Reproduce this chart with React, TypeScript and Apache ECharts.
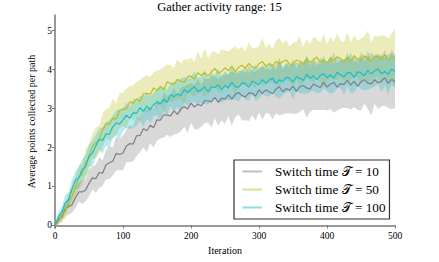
import React, { useEffect, useRef } from 'react';
import * as echarts from 'echarts';

const TITLE = 'Gather activity range: 15';
const ITER_STEP = 5;
const Y_TICKS = [0, 1, 2, 3, 4, 5];
const SERIES_NAMES = ['Switch time 𝒯 = 10', 'Switch time 𝒯 = 50', 'Switch time 𝒯 = 100'];

const grayMean = [
  0, 0.16, 0.21, 0.42, 0.49, 0.53, 0.71, 0.86, 0.86, 0.91,
  1.08, 1.22, 1.2, 1.36, 1.34, 1.56, 1.61, 1.65, 1.85, 1.82,
  1.86, 2.04, 2.1, 2.09, 2.3, 2.31, 2.48, 2.43, 2.57, 2.51,
  2.71, 2.7, 2.84, 2.83, 2.81, 2.94, 2.85, 2.98, 3.05, 2.99,
  3.14, 3.04, 3.11, 3.07, 3.2, 3.2, 3.17, 3.29, 3.16, 3.27,
  3.24, 3.35, 3.25, 3.36, 3.41, 3.33, 3.3, 3.4, 3.39, 3.32,
  3.48, 3.39, 3.48, 3.43, 3.38, 3.5, 3.56, 3.43, 3.51, 3.47,
  3.57, 3.44, 3.56, 3.59, 3.53, 3.5, 3.63, 3.58, 3.54, 3.67,
  3.55, 3.63, 3.67, 3.55, 3.64, 3.62, 3.72, 3.6, 3.7, 3.57,
  3.69, 3.74, 3.65, 3.63, 3.74, 3.66, 3.7, 3.79, 3.64, 3.75,
  3.69,
];
const graySpread = [
  0.02, 0.08, 0.14, 0.17, 0.22, 0.2, 0.27, 0.25, 0.31, 0.28,
  0.34, 0.3, 0.36, 0.4, 0.33, 0.38, 0.42, 0.36, 0.44, 0.4,
  0.45, 0.41, 0.48, 0.44, 0.52, 0.43, 0.47, 0.55, 0.46, 0.5,
  0.53, 0.47, 0.58, 0.5, 0.54, 0.6, 0.49, 0.56, 0.52, 0.62,
  0.51, 0.57, 0.65, 0.53, 0.58, 0.55, 0.66, 0.54, 0.6, 0.57,
  0.63, 0.55, 0.7, 0.58, 0.56, 0.64, 0.6, 0.72, 0.57, 0.62,
  0.58, 0.68, 0.6, 0.56, 0.66, 0.62, 0.74, 0.58, 0.63, 0.6,
  0.7, 0.58, 0.64, 0.61, 0.76, 0.59, 0.66, 0.62, 0.58, 0.7,
  0.6, 0.65, 0.78, 0.6, 0.64, 0.6, 0.72, 0.62, 0.67, 0.6,
  0.74, 0.62, 0.66, 0.8, 0.62, 0.68, 0.64, 0.72, 0.62, 0.76,
  0.68,
];

const oliveMean = [
  0, 0.07, 0.27, 0.36, 0.65, 0.74, 1.0, 1.24, 1.31, 1.61,
  1.73, 2.04, 2.11, 2.21, 2.44, 2.61, 2.6, 2.75, 2.74, 2.95,
  2.98, 3.0, 3.17, 3.14, 3.25, 3.18, 3.38, 3.39, 3.36, 3.53,
  3.46, 3.57, 3.49, 3.69, 3.64, 3.62, 3.75, 3.7, 3.67, 3.82,
  3.83, 3.76, 3.92, 3.85, 3.92, 3.83, 3.94, 4.03, 3.91, 3.95,
  4.05, 3.97, 4.09, 3.95, 4.06, 4.11, 4.03, 4.16, 4.07, 4.04,
  4.15, 4.21, 4.08, 4.16, 4.08, 4.21, 4.15, 4.2, 4.25, 4.14,
  4.13, 4.24, 4.22, 4.12, 4.28, 4.18, 4.26, 4.32, 4.18, 4.24,
  4.17, 4.3, 4.23, 4.33, 4.28, 4.2, 4.31, 4.22, 4.36, 4.26,
  4.22, 4.35, 4.3, 4.2, 4.33, 4.35, 4.26, 4.38, 4.24, 4.32,
  4.3,
];
const oliveSpread = [
  0.02, 0.08, 0.12, 0.18, 0.2, 0.26, 0.24, 0.3, 0.28, 0.33,
  0.36, 0.32, 0.4, 0.35, 0.44, 0.38, 0.42, 0.5, 0.4, 0.45,
  0.42, 0.52, 0.4, 0.46, 0.43, 0.56, 0.42, 0.48, 0.44, 0.4,
  0.5, 0.43, 0.58, 0.44, 0.47, 0.42, 0.52, 0.45, 0.6, 0.43,
  0.48, 0.44, 0.55, 0.42, 0.62, 0.46, 0.5, 0.44, 0.48, 0.57,
  0.44, 0.5, 0.45, 0.64, 0.46, 0.49, 0.43, 0.55, 0.47, 0.52,
  0.45, 0.6, 0.46, 0.5, 0.44, 0.53, 0.66, 0.47, 0.5, 0.45,
  0.55, 0.48, 0.62, 0.46, 0.5, 0.47, 0.58, 0.46, 0.52, 0.68,
  0.47, 0.53, 0.49, 0.6, 0.46, 0.5, 0.64, 0.48, 0.52, 0.47,
  0.58, 0.5, 0.7, 0.48, 0.54, 0.5, 0.62, 0.49, 0.56, 0.6,
  0.75,
];

const cyanMean = [
  0, 0.23, 0.34, 0.58, 0.66, 0.93, 1.16, 1.22, 1.43, 1.51,
  1.79, 1.85, 2.04, 2.21, 2.18, 2.35, 2.34, 2.53, 2.63, 2.6,
  2.71, 2.83, 2.75, 2.89, 2.88, 3.02, 2.93, 3.06, 2.97, 3.1,
  3.17, 3.12, 3.24, 3.16, 3.36, 3.3, 3.38, 3.33, 3.49, 3.41,
  3.49, 3.56, 3.44, 3.48, 3.56, 3.43, 3.56, 3.54, 3.61, 3.49,
  3.59, 3.53, 3.67, 3.57, 3.54, 3.66, 3.64, 3.55, 3.7, 3.66,
  3.61, 3.74, 3.65, 3.73, 3.78, 3.64, 3.74, 3.69, 3.8, 3.78,
  3.68, 3.82, 3.78, 3.72, 3.88, 3.78, 3.84, 3.74, 3.85, 3.89,
  3.79, 3.86, 3.78, 3.93, 3.87, 3.81, 3.93, 3.91, 3.8, 3.94,
  3.92, 3.84, 3.98, 3.89, 3.96, 4.02, 3.89, 3.95, 3.88, 4.01,
  3.95,
];
const cyanSpread = [
  0.02, 0.1, 0.15, 0.2, 0.18, 0.25, 0.23, 0.28, 0.26, 0.3,
  0.28, 0.33, 0.29, 0.27, 0.34, 0.3, 0.36, 0.29, 0.32, 0.38,
  0.3, 0.33, 0.28, 0.37, 0.32, 0.3, 0.4, 0.31, 0.35, 0.3,
  0.34, 0.42, 0.31, 0.33, 0.29, 0.38, 0.33, 0.44, 0.32, 0.35,
  0.31, 0.4, 0.35, 0.32, 0.45, 0.33, 0.36, 0.31, 0.42, 0.34,
  0.37, 0.32, 0.46, 0.34, 0.36, 0.33, 0.41, 0.35, 0.32, 0.47,
  0.35, 0.38, 0.33, 0.43, 0.36, 0.34, 0.48, 0.35, 0.38, 0.34,
  0.44, 0.36, 0.39, 0.34, 0.5, 0.36, 0.38, 0.35, 0.45, 0.37,
  0.34, 0.48, 0.37, 0.4, 0.35, 0.46, 0.36, 0.52, 0.38, 0.36,
  0.42, 0.37, 0.5, 0.36, 0.4, 0.38, 0.47, 0.36, 0.52, 0.4,
  0.42,
];

const GROUPS = [
  { name: SERIES_NAMES[0], mean: grayMean, spread: graySpread, line: '#7f7f7f', band: 'rgba(127,127,127,0.3)' },
  { name: SERIES_NAMES[1], mean: oliveMean, spread: oliveSpread, line: '#bcbd22', band: 'rgba(188,189,34,0.3)' },
  { name: SERIES_NAMES[2], mean: cyanMean, spread: cyanSpread, line: '#17becf', band: 'rgba(23,190,207,0.3)' },
];

const FONT = 'Liberation Serif';

export default function App() {
  const ref = useRef<HTMLDivElement>(null);
  useEffect(() => {
    if (!ref.current) return;
    const chart = echarts.init(ref.current, null, { renderer: 'svg' });
    const iters = grayMean.map((_, i) => i * ITER_STEP);

    const bandSeries = GROUPS.map((g) => {
      const rows = iters.map((x, i) => [x, g.mean[i] - g.spread[i], g.mean[i] + g.spread[i]]);
      return {
        type: 'custom',
        silent: true,
        data: rows,
        encode: { x: 0, y: [1, 2] },
        renderItem: (params: any, api: any) => {
          if (params.dataIndex !== 0) return null;
          const upper = rows.map((r) => api.coord([r[0], r[2]]));
          const lower = rows.map((r) => api.coord([r[0], r[1]])).reverse();
          return {
            type: 'polygon',
            shape: { points: upper.concat(lower) },
            style: { fill: g.band, stroke: 'none' },
          };
        },
      };
    });

    const lineSeries = GROUPS.map((g) => ({
      type: 'line',
      name: g.name,
      data: iters.map((x, i) => [x, g.mean[i]]),
      symbol: 'none',
      lineStyle: { color: g.line, width: 1.2 },
      itemStyle: { color: g.line },
    }));

    chart.setOption({
      animation: false,
      backgroundColor: '#fff',
      textStyle: { fontFamily: FONT },
      title: {
        text: TITLE,
        left: 'center',
        top: 0,
        padding: 0,
        textStyle: { fontFamily: FONT, fontSize: 12.5, fontWeight: 'normal', color: '#000' },
      },
      grid: { left: 55, right: 44, top: 15, bottom: 34 },
      xAxis: {
        type: 'value',
        min: 0,
        max: 500,
        interval: 100,
        name: 'Iteration',
        nameLocation: 'middle',
        nameGap: 15,
        nameTextStyle: { fontFamily: FONT, fontSize: 10, color: '#000' },
        axisLine: { lineStyle: { color: '#777', width: 1.5 } },
        axisTick: { length: 3, lineStyle: { color: '#777' } },
        axisLabel: { fontFamily: FONT, fontSize: 9.5, color: '#000', margin: 3 },
        splitLine: { show: false },
      },
      yAxis: {
        type: 'value',
        min: -0.065,
        max: 5.4,
        name: 'Average points collected per path',
        nameLocation: 'middle',
        nameGap: 12,
        nameTextStyle: { fontFamily: FONT, fontSize: 10, color: '#000' },
        axisLine: { show: true, lineStyle: { color: '#777', width: 1.5 } },
        axisTick: { show: true, length: 3, lineStyle: { color: '#777' }, customValues: Y_TICKS },
        axisLabel: { fontFamily: FONT, fontSize: 9.5, color: '#000', margin: 3, customValues: Y_TICKS },
        splitLine: { show: false },
      },
      legend: {
        orient: 'vertical',
        left: 234,
        top: 160,
        padding: [5, 4, 5, 8.5],
        itemGap: 5,
        itemWidth: 19.5,
        itemHeight: 2,
        icon: 'rect',
        borderColor: '#333',
        borderWidth: 1.2,
        borderRadius: 0,
        backgroundColor: '#fff',
        textStyle: { fontFamily: FONT, fontSize: 13.2, color: '#000', padding: [0, 0, 0, 8] },
        data: GROUPS.map((g) => ({ name: g.name, itemStyle: { color: g.line, opacity: 0.5 } })),
      },
      series: [...bandSeries, ...lineSeries],
    });
    return () => chart.dispose();
  }, []);
  return <div ref={ref} style={{ width: 439, height: 262, position: 'absolute', left: 0, top: 0 }} />;
}
